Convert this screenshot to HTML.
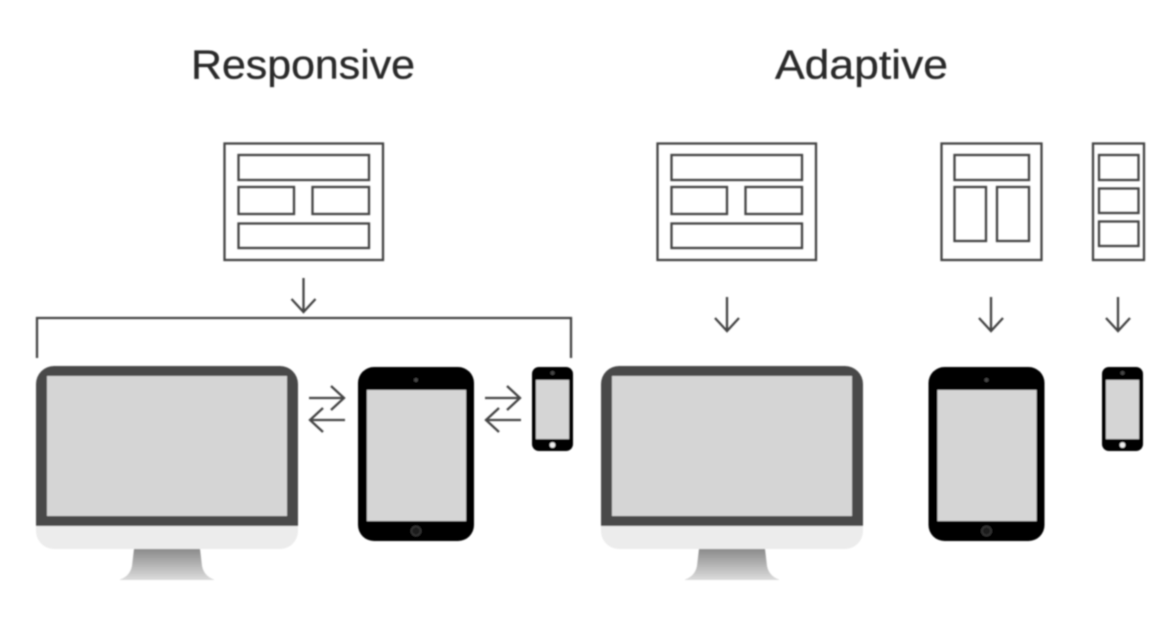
<!DOCTYPE html>
<html>
<head>
<meta charset="utf-8">
<style>
html,body{margin:0;padding:0;background:#fff}
svg{display:block}
text{font-family:"Liberation Sans",sans-serif;font-size:41px;fill:#2b2b2b;stroke:#2b2b2b;stroke-width:0.35px}
</style>
</head>
<body>
<svg width="1174" height="618" viewBox="0 0 1174 618" xmlns="http://www.w3.org/2000/svg">
<defs>
<filter id="b" x="-5%" y="-5%" width="110%" height="110%"><feGaussianBlur stdDeviation="0.85"/></filter>
<linearGradient id="st" x1="0" y1="0" x2="0" y2="1"><stop offset="0" stop-color="#8a8a8a"/><stop offset="1" stop-color="#dcdcdc"/></linearGradient>
<g id="monitor">
<path d="M0 526V384a18 18 0 0 1 18-18H244a18 18 0 0 1 18 18V526Z" fill="#4a4a4a"/>
<rect x="11" y="376" width="240" height="140" fill="#d5d5d5"/>
<path d="M0 526H262V531a18 18 0 0 1-18 18H18a18 18 0 0 1-18-18Z" fill="#ececec"/>
<path d="M98 549H164L166 566Q168 576 178 579.500V580H84V579.500Q94 576 96 566Z" fill="url(#st)"/>
</g>
<g id="tablet">
<rect x="0" y="367" width="116" height="174" rx="16" fill="#000"/>
<rect x="9" y="390" width="99" height="131" fill="#d5d5d5"/>
<circle cx="58" cy="380" r="2" fill="#444"/>
<circle cx="58" cy="531" r="5.500" fill="#333"/>
<circle cx="58" cy="531" r="3.500" fill="#1a1a1a"/>
</g>
<g id="phone">
<rect x="0" y="367" width="41" height="84" rx="7" fill="#000"/>
<rect x="4" y="380" width="33" height="59" fill="#d5d5d5"/>
<circle cx="20.500" cy="373" r="2" fill="#444"/>
<circle cx="20.500" cy="445" r="2.800" fill="#eee"/>
</g>
<g id="wide" fill="none" stroke="#444" stroke-width="2.300">
<rect x="0.500" y="143.500" width="158.500" height="116.500"/>
<rect x="14.500" y="155" width="130.500" height="25"/>
<rect x="14.500" y="187" width="55.500" height="27"/>
<rect x="88.500" y="187" width="56.500" height="27"/>
<rect x="14.500" y="223.500" width="130.500" height="24.500"/>
</g>
<g id="swap" fill="none" stroke="#444" stroke-width="2.300">
<path d="M0 398H35M22 386L35 398L22 410"/>
<path d="M36 420H1M14 408L1 420L14 432"/>
</g>
<path id="down" d="M0 0V34M-12 21L0 34L12 21" fill="none" stroke="#444" stroke-width="2.300"/>
</defs>
<g filter="url(#b)">
<use href="#wide" x="224"/>
<use href="#wide" x="657"/>
<g fill="none" stroke="#444" stroke-width="2.300">
<rect x="941.500" y="143.500" width="100" height="116.500"/>
<rect x="954.500" y="155" width="74.500" height="25"/>
<rect x="954.500" y="187" width="31.500" height="54"/>
<rect x="997" y="187" width="32" height="54"/>
<rect x="1093" y="143.500" width="51" height="116.500"/>
<rect x="1099" y="155" width="39.500" height="25"/>
<rect x="1099" y="188.500" width="39.500" height="24.500"/>
<rect x="1099" y="221.500" width="39.500" height="24.500"/>
<path d="M37 358V318H571V358"/>
</g>
<use href="#down" x="303.500" y="278"/>
<use href="#down" x="727" y="297"/>
<use href="#down" x="991" y="297"/>
<use href="#down" x="1118" y="297"/>
<use href="#swap" x="309"/>
<use href="#swap" x="485"/>
<use href="#monitor" x="36"/>
<use href="#monitor" x="601"/>
<use href="#tablet" x="358"/>
<use href="#tablet" x="928.500"/>
<use href="#phone" x="532"/>
<use href="#phone" x="1102"/>
<text x="191" y="78.500" textLength="224" lengthAdjust="spacingAndGlyphs">Responsive</text>
<text x="775" y="78.500" textLength="173" lengthAdjust="spacingAndGlyphs">Adaptive</text>
</g>
</svg>
</body>
</html>
